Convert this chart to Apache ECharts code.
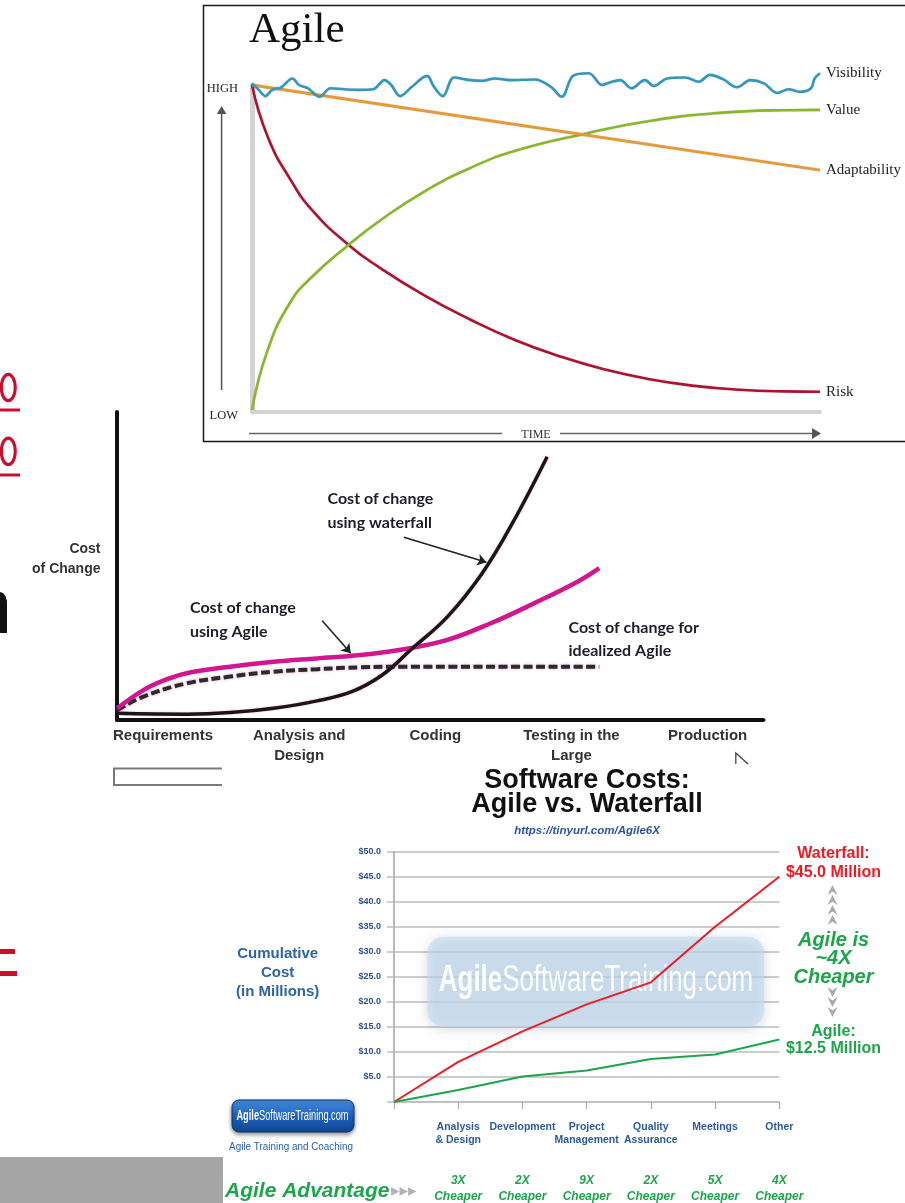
<!DOCTYPE html>
<html>
<head>
<meta charset="utf-8">
<script src="https://cdn.jsdelivr.net/npm/echarts@6/dist/echarts.min.js"></script>
<style>
  html, body { margin: 0; padding: 0; background: #fff; }
  #c { width: 905px; height: 1203px; }
</style>
</head>
<body>
<div id="c"></div>
<script>
// ---------- Agile: level over time (time 0..100, level LOW=0 .. HIGH=100) ----------
const visibility = [
  [0, 100.5], [1.19, 98.5], [2.37, 96.6], [3.56, 98.5], [5.14, 99.3], [7.11, 102.0], [8.30, 100.0],
  [9.88, 99.0], [11.86, 96.4], [13.83, 99.0], [16.21, 98.7], [18.58, 98.5], [21.34, 98.7], [23.32, 101.5],
  [24.51, 100.0], [26.09, 96.6], [28.06, 99.3], [30.83, 102.8], [32.02, 99.5], [33.60, 96.6], [35.57, 102.3],
  [38.34, 101.5], [40.71, 101.3], [42.69, 102.0], [45.45, 101.5], [49.80, 101.7], [52.57, 99.5], [54.55, 96.4],
  [56.52, 102.8], [59.29, 103.6], [61.66, 100.0], [62.85, 100.7], [64.82, 101.5], [66.80, 99.0], [69.17, 101.5],
  [70.75, 99.7], [73.12, 102.0], [76.28, 102.3], [78.66, 101.0], [80.63, 103.1], [83.00, 101.7], [85.38, 99.3],
  [87.75, 101.5], [90.12, 100.5], [92.49, 97.6], [94.47, 98.7], [96.44, 97.9], [98.42, 99.0], [99.05, 102.0],
  [100, 103.6]
];
const adaptability = [[0, 100], [100, 74]];
const value = [
  [0, 0.6], [2.77, 19.0], [6.72, 33.5], [10.67, 41.5], [17.0, 51.1], [22.5, 58.5], [30.4, 67.5],
  [38.3, 74.5], [46.2, 79.8], [58.9, 85.2], [70.0, 89.0], [81.8, 91.4], [93.7, 92.3], [100, 92.4]
];
const risk = [
  [0, 100], [2.8, 84.0], [6.8, 71.0], [10.7, 61.5], [17.0, 51.1], [22.6, 44.0], [30.5, 35.5],
  [38.4, 28.3], [46.3, 22.0], [54.2, 17.0], [62.1, 13.0], [70.0, 10.0], [77.9, 8.0], [85.8, 6.8],
  [93.7, 6.3], [100, 6.2]
];
const levelTicks = [0, 100];
const levelNames = { 0: 'LOW', 100: 'HIGH' };

// ---------- Cost of change by phase (phase index, relative cost 0..100) ----------
const phases = ['Requirements', 'Analysis and\nDesign', 'Coding', 'Testing in the\nLarge', 'Production'];
const waterfallCost = [
  [-0.336, 2.2], [0.174, 1.9], [0.493, 2.4], [0.8125, 3.8], [1.131, 6.2], [1.386, 9.2], [1.610, 14.6],
  [1.832, 23.3], [2.088, 33.5], [2.343, 47.6], [2.566, 63.9], [2.821, 85.5]
];
const agileCost = [
  [-0.336, 3.8], [-0.144, 9.7], [0.015, 13.0], [0.174, 15.2], [0.493, 17.3], [0.8125, 18.9], [1.131, 20.0],
  [1.45, 21.1], [1.769, 23.0], [2.088, 26.0], [2.407, 31.4], [2.726, 37.9], [3.044, 44.9], [3.204, 49.3]
];
const idealAgileCost = [
  [-0.336, 3.2], [-0.144, 7.6], [0.174, 11.9], [0.493, 14.1], [0.8125, 15.7], [1.131, 16.5],
  [1.45, 17.1], [1.769, 17.3], [3.204, 17.3]
];
const waterfallPointer = [[1.769, 59.3], [2.375, 51.2]];
const agilePointer = [[1.169, 32.2], [1.379, 21.7]];

// ---------- Software costs: cumulative cost in millions ----------
const costCategories = ['', 'Analysis\n& Design', 'Development', 'Project\nManagement', 'Quality\nAssurance', 'Meetings', 'Other'];
const waterfallMillions = [0, 8.0, 14.1, 19.5, 23.9, 35.0, 45.0];
const agileMillions = [0, 2.4, 5.1, 6.3, 8.6, 9.5, 12.5];
const agileAdvantage = ['', '3X', '2X', '9X', '2X', '5X', '4X'];

const RED = '#ec1c24';
const GREEN = '#1ea44b';
const NAVY = '#2c5a9e';

function arrowHead(x, y, dir, size, color) {
  // small filled triangle pointing up / right
  let pts;
  if (dir === 'up') pts = [[x, y], [x - size * 0.6, y + size], [x + size * 0.6, y + size]];
  else pts = [[x, y], [x - size, y - size * 0.6], [x - size, y + size * 0.6]];
  return { type: 'polygon', shape: { points: pts }, style: { fill: color }, z: 5 };
}

function chevron(x, y, dir, color) {
  const s = dir === 'up' ? 1 : -1;
  return {
    type: 'polygon',
    shape: { points: [[x, y], [x + 5, y + 10 * s], [x, y + 6.5 * s], [x - 5, y + 10 * s]] },
    style: { fill: color }, z: 5
  };
}

const last = arr => arr[arr.length - 1];

const graphics = [
  // ---- slide fragments on the left ----
  { type: 'ellipse', shape: { cx: 8.3, cy: 387.5, rx: 7, ry: 13.2 }, style: { fill: null, stroke: '#c8102e', lineWidth: 3.2 } },
  { type: 'rect', shape: { x: 0, y: 408.5, width: 20, height: 3 }, style: { fill: '#c8102e' } },
  { type: 'ellipse', shape: { cx: 8.3, cy: 451.3, rx: 7, ry: 13.2 }, style: { fill: null, stroke: '#c8102e', lineWidth: 3.2 } },
  { type: 'rect', shape: { x: 0, y: 473.5, width: 20, height: 3 }, style: { fill: '#c8102e' } },
  { type: 'polygon', shape: { points: [[0, 592], [3, 593], [5.5, 596], [7, 601], [7, 633], [0, 633]] }, style: { fill: '#111' } },
  { type: 'rect', shape: { x: 0, y: 949, width: 15, height: 5 }, style: { fill: '#c8102e' } },
  { type: 'rect', shape: { x: 0, y: 971, width: 17, height: 5 }, style: { fill: '#c8102e' } },
  { type: 'rect', shape: { x: 0, y: 1157, width: 223, height: 46 }, style: { fill: '#a6a6a6' } },
  { type: 'polyline', shape: { points: [[222, 768.5], [114, 768.5], [114, 785], [222, 785]] }, style: { stroke: '#7a7a7a', lineWidth: 2, fill: null } },

  // ---- Agile panel frame and decorations ----
  { type: 'rect', shape: { x: 203.5, y: 5.5, width: 720, height: 436 }, style: { fill: '#fff', stroke: '#1a1a1a', lineWidth: 1.5 }, z: -1 },
  { type: 'text', x: 249, y: 31, style: { text: 'Agile', font: '43px "Liberation Serif"', fill: '#111', align: 'left', verticalAlign: 'middle' }, z: 5 },
  { type: 'line', shape: { x1: 221.6, y1: 390, x2: 221.6, y2: 112 }, style: { stroke: '#555', lineWidth: 1.5 }, z: 5 },
  arrowHead(221.6, 106, 'up', 8, '#555'),
  { type: 'line', shape: { x1: 249, y1: 433.5, x2: 502, y2: 433.5 }, style: { stroke: '#666', lineWidth: 1.5 }, z: 5 },
  { type: 'line', shape: { x1: 560, y1: 433.5, x2: 812, y2: 433.5 }, style: { stroke: '#666', lineWidth: 1.5 }, z: 5 },
  arrowHead(821, 433.5, 'right', 9, '#555'),

  // ---- Cost of change annotations ----
  { type: 'text', x: 100.5, y: 559, style: { text: 'Cost\nof Change', font: 'bold 14px "Liberation Sans"', fill: '#333', align: 'right', verticalAlign: 'middle', lineHeight: 19.6 }, z: 5 },
  { type: 'text', x: 327.5, y: 511, style: { text: 'Cost of change\nusing waterfall', font: 'bold 16px Lato', fill: '#1d1d2c', align: 'left', verticalAlign: 'middle', lineHeight: 23.4 }, z: 5 },
  { type: 'text', x: 190, y: 620, style: { text: 'Cost of change\nusing Agile', font: 'bold 16px Lato', fill: '#1d1d2c', align: 'left', verticalAlign: 'middle', lineHeight: 23.4 }, z: 5 },
  { type: 'text', x: 568.5, y: 639.2, style: { text: 'Cost of change for\nidealized Agile', font: 'bold 16px Lato', fill: '#1d1d2c', align: 'left', verticalAlign: 'middle', lineHeight: 23 }, z: 5 },
  { type: 'polyline', shape: { points: [[735.8, 764], [735.8, 753], [748, 764]] }, style: { stroke: '#444', lineWidth: 1.3, fill: null }, z: 5 },

  // ---- Software costs header and side texts ----
  { type: 'text', x: 587, y: 792.5, style: { text: 'Software Costs:\nAgile vs. Waterfall', font: 'bold 27px "Liberation Sans"', fill: '#111', align: 'center', verticalAlign: 'middle', lineHeight: 23.5 }, z: 5 },
  { type: 'text', x: 587, y: 830.7, style: { text: 'https://tinyurl.com/Agile6X', font: 'italic bold 11.5px "Liberation Sans"', fill: '#2a54a0', align: 'center', verticalAlign: 'middle' }, z: 5 },
  { type: 'text', x: 277.7, y: 973, style: { text: 'Cumulative\nCost\n(in Millions)', font: 'bold 15px "Liberation Sans"', fill: '#2f63a8', align: 'center', verticalAlign: 'middle', lineHeight: 18.7 }, z: 5 },

  // watermark plate
  { type: 'rect', shape: { x: 427.5, y: 936.7, width: 336.5, height: 90, r: 16 }, style: { fill: 'rgba(196,220,240,0.62)', shadowBlur: 12, shadowColor: 'rgba(120,140,165,0.55)', shadowOffsetY: 2 }, z: 1 },
  { type: 'text', x: 596, y: 981, scaleX: 0.7,
    style: { text: '{b|Agile}{r|SoftwareTraining.com}', align: 'center', verticalAlign: 'middle',
      rich: { b: { font: 'bold 37px "Liberation Sans"', fill: 'rgba(255,255,255,0.93)' }, r: { font: '37px "Liberation Sans"', fill: 'rgba(255,255,255,0.93)' } } }, z: 1 },

  // end-of-line value labels
  { type: 'text', x: 833.5, y: 863.5, style: { text: 'Waterfall:\n$' + last(waterfallMillions).toFixed(1) + ' Million', font: 'bold 16px "Liberation Sans"', fill: RED, align: 'center', verticalAlign: 'middle', lineHeight: 19 }, z: 5 },
  { type: 'text', x: 833.5, y: 958.5, style: { text: 'Agile is\n~4X\nCheaper', font: 'italic bold 20px "Liberation Sans"', fill: GREEN, align: 'center', verticalAlign: 'middle', lineHeight: 18.5 }, z: 5 },
  { type: 'text', x: 833.5, y: 1040, style: { text: 'Agile:\n$' + last(agileMillions).toFixed(1) + ' Million', font: 'bold 16px "Liberation Sans"', fill: GREEN, align: 'center', verticalAlign: 'middle', lineHeight: 17.5 }, z: 5 },

  // logo
  { type: 'rect', shape: { x: 232, y: 1100, width: 122, height: 32, r: 7 },
    style: { fill: new echarts.graphic.LinearGradient(0, 0, 0, 1, [{ offset: 0, color: '#4a8fe0' }, { offset: 0.5, color: '#1d62c0' }, { offset: 1, color: '#0f4592' }]),
      stroke: '#0b3471', lineWidth: 1, shadowBlur: 4, shadowColor: 'rgba(0,0,0,0.45)', shadowOffsetY: 2 }, z: 5 },
  { type: 'text', x: 292.5, y: 1116, scaleX: 0.66,
    style: { text: '{b|Agile}{r|SoftwareTraining.com}', align: 'center', verticalAlign: 'middle',
      rich: { b: { font: 'bold 14px "Liberation Sans"', fill: '#fff' }, r: { font: '14px "Liberation Sans"', fill: '#fff' } } }, z: 6 },
  { type: 'text', x: 291, y: 1147, scaleX: 0.86,
    style: { text: 'Agile Training and Coaching', font: '11.5px "Liberation Sans"', fill: '#2a60b0', align: 'center', verticalAlign: 'middle' }, z: 5 },

  // advantage row title
  { type: 'text', x: 225, y: 1191.5, style: { text: 'Agile Advantage', font: 'italic bold 21px "Liberation Sans"', fill: GREEN, align: 'left', verticalAlign: 'middle' }, z: 5 },
  { type: 'text', x: 391, y: 1192, style: { text: '▸▸▸', font: '17px "DejaVu Sans"', fill: '#b3b3b3', align: 'left', verticalAlign: 'middle' }, z: 5 }
];

// stacked chevrons between the two totals
[885, 895, 905, 915].forEach(y => graphics.push(chevron(832.5, y, 'up', '#a8a8a8')));
[1017, 1007, 997].forEach(y => graphics.push(chevron(832.5, y, 'down', '#a8a8a8')));

function agileSeries(name, data, color, width, smooth) {
  return {
    name, type: 'line', xAxisIndex: 0, yAxisIndex: 0, data, smooth,
    showSymbol: false, clip: false,
    lineStyle: { color, width, shadowBlur: 2, shadowColor: 'rgba(0,0,0,0.12)' },
    endLabel: { show: true, formatter: '{a}', color: '#222', fontFamily: 'Liberation Serif', fontSize: 15, distance: 6 },
    z: 3
  };
}

function pointerLine(pair) {
  return {
    silent: true, symbol: ['none', 'arrow'], symbolSize: 9,
    lineStyle: { color: '#222', width: 1.6, type: 'solid' }, label: { show: false },
    data: [[{ coord: pair[0] }, { coord: pair[1] }]]
  };
}

const option = {
  animation: false,
  backgroundColor: '#fff',
  grid: [
    { left: 252, right: 85, top: 85, bottom: 791 },
    { left: 117, right: 141.5, top: 412, bottom: 483 },
    { left: 394, right: 125.7, top: 851.7, bottom: 100.3 }
  ],
  xAxis: [
    { gridIndex: 0, type: 'value', min: 0, max: 100, offset: 3,
      axisLine: { show: true, lineStyle: { color: '#d3d3d3', width: 4 } },
      axisTick: { show: false }, axisLabel: { show: false }, splitLine: { show: false },
      name: 'TIME', nameLocation: 'middle', nameGap: 14,
      nameTextStyle: { fontFamily: 'Liberation Serif', fontSize: 12, color: '#333' } },
    { gridIndex: 1, type: 'value', min: -0.338, max: 4.41,
      axisLine: { show: true, onZero: false, lineStyle: { color: '#111', width: 4 } },
      axisTick: { show: false }, splitLine: { show: false },
      axisLabel: { customValues: [0, 1, 2, 3, 4], formatter: v => phases[Math.round(v)],
        fontFamily: 'Liberation Sans', fontWeight: 'bold', fontSize: 15, color: '#333', lineHeight: 19.6, margin: 6 } },
    { gridIndex: 2, type: 'category', data: costCategories, boundaryGap: false,
      axisLine: { show: true, lineStyle: { color: '#bdbdbd', width: 1.5 } },
      axisTick: { show: true, length: 7, lineStyle: { color: '#aaa', width: 1.2 } },
      axisLabel: { interval: 0, fontFamily: 'Liberation Sans', fontWeight: 'bold', fontSize: 10.5, color: NAVY, lineHeight: 13.3, margin: 18 },
      splitLine: { show: false } },
    { gridIndex: 2, type: 'category', data: agileAdvantage, boundaryGap: false, position: 'bottom',
      axisLine: { show: false }, axisTick: { show: false }, splitLine: { show: false },
      axisLabel: { interval: 0, margin: 71,
        formatter: v => v ? '{n|' + v + '}\n{c|Cheaper}' : '',
        rich: {
          n: { fontFamily: 'Liberation Sans', fontWeight: 'bold', fontStyle: 'italic', fontSize: 12, color: GREEN, lineHeight: 16 },
          c: { fontFamily: 'Liberation Sans', fontWeight: 'bold', fontStyle: 'italic', fontSize: 12, color: GREEN, lineHeight: 16 }
        } } }
  ],
  yAxis: [
    { gridIndex: 0, type: 'value', min: 0, max: 100, offset: 3,
      axisLine: { show: true, lineStyle: { color: '#d3d3d3', width: 5 } },
      axisTick: { show: false }, splitLine: { show: false },
      axisLabel: { customValues: levelTicks, formatter: v => '{t|' + levelNames[v] + '}', margin: 11,
        rich: { t: { fontFamily: 'Liberation Serif', fontSize: 12.5, color: '#222', padding: [8, 0, 0, 0] } } } },
    { gridIndex: 1, type: 'value', min: 0, max: 100,
      axisLine: { show: true, onZero: false, lineStyle: { color: '#111', width: 4 } },
      axisTick: { show: false }, axisLabel: { show: false }, splitLine: { show: false } },
    { gridIndex: 2, type: 'value', min: 0, max: 50, interval: 5,
      axisLine: { show: true, lineStyle: { color: '#a0a0a0', width: 1.5 } },
      axisTick: { show: true, length: 7, lineStyle: { color: '#bdbdbd', width: 1.5 } },
      splitLine: { show: true, lineStyle: { color: '#bdbdbd', width: 1.5 } },
      axisLabel: { formatter: v => v === 0 ? '' : '$' + v.toFixed(1), fontFamily: 'Liberation Sans', fontWeight: 'bold',
        fontSize: 9, color: '#2b4f87', margin: 13 } }
  ],
  graphic: { elements: graphics },
  series: [
    agileSeries('Risk', risk, '#ad1230', 2.6, 0.5),
    agileSeries('Value', value, '#8ab62e', 2.6, 0.5),
    agileSeries('Adaptability', adaptability, '#e49a36', 2.8, 0),
    agileSeries('Visibility', visibility, '#3297bd', 2.6, 0.35),

    { name: 'Cost of change for idealized Agile', type: 'line', xAxisIndex: 1, yAxisIndex: 1, data: idealAgileCost,
      smooth: 0.4, showSymbol: false,
      lineStyle: { color: '#2b2b2b', width: 4, type: [9, 3.5], shadowBlur: 3, shadowColor: 'rgba(225,90,180,0.6)' }, z: 3 },
    { name: 'Cost of change using Agile', type: 'line', xAxisIndex: 1, yAxisIndex: 1, data: agileCost,
      smooth: 0.4, showSymbol: false, lineStyle: { color: '#d2168f', width: 4.5 }, z: 4,
      markLine: pointerLine(agilePointer) },
    { name: 'Cost of change using waterfall', type: 'line', xAxisIndex: 1, yAxisIndex: 1, data: waterfallCost,
      smooth: 0.4, showSymbol: false, lineStyle: { color: '#1c1416', width: 3.5, shadowBlur: 2, shadowColor: 'rgba(220,80,170,0.45)' }, z: 4,
      markLine: pointerLine(waterfallPointer) },

    { name: 'Waterfall', type: 'line', xAxisIndex: 2, yAxisIndex: 2, data: waterfallMillions,
      showSymbol: false, lineStyle: { color: RED, width: 2 }, z: 4 },
    { name: 'Agile', type: 'line', xAxisIndex: 2, yAxisIndex: 2, data: agileMillions,
      showSymbol: false, lineStyle: { color: GREEN, width: 2 }, z: 4 }
  ]
};

echarts.init(document.getElementById('c')).setOption(option);
</script>
</body>
</html>
